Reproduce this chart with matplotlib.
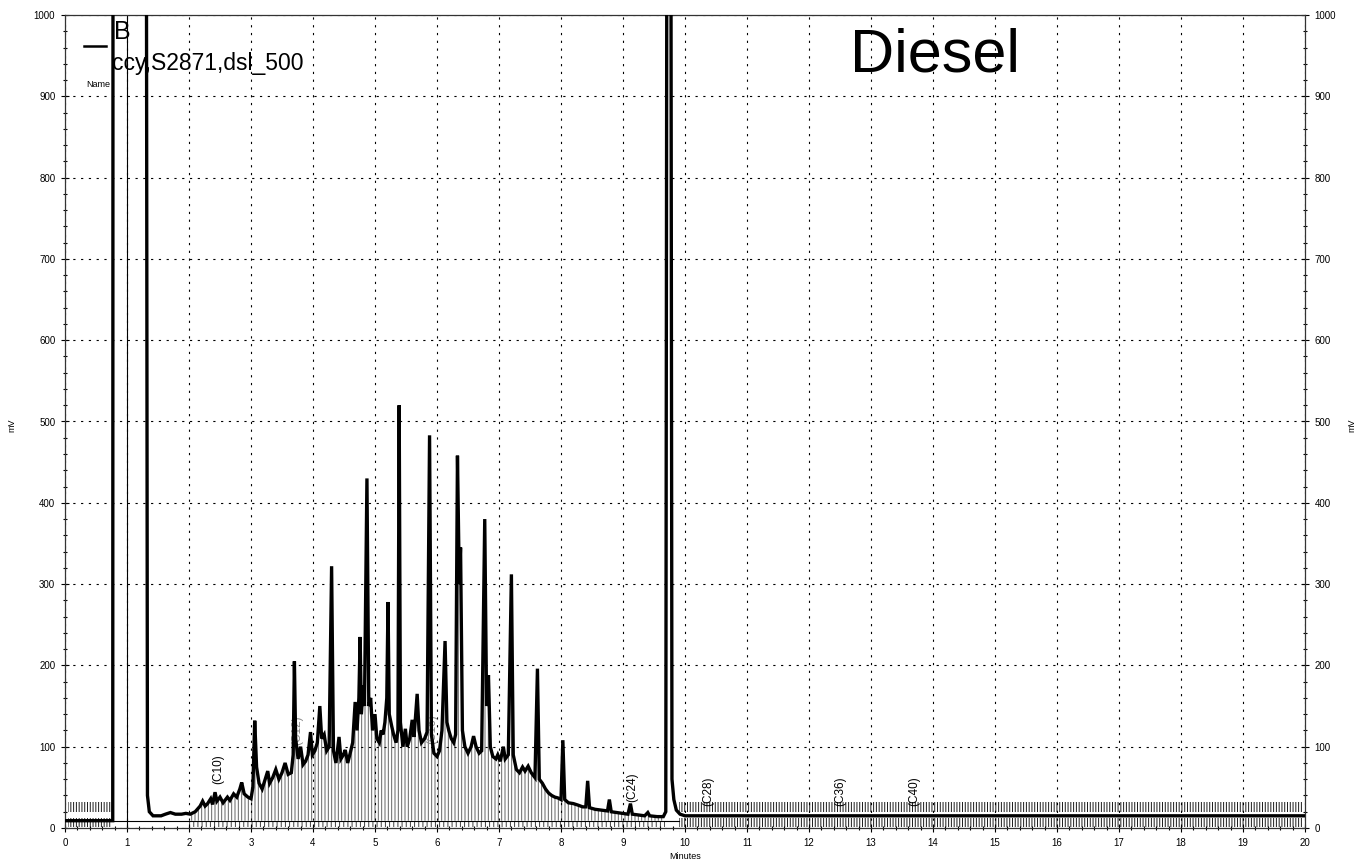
import numpy as np
import matplotlib.pyplot as plt
from matplotlib.lines import Line2D
from matplotlib.ticker import MultipleLocator

plt.rcParams['font.family'] = ['Liberation Sans', 'DejaVu Sans']
plt.rcParams['hatch.linewidth'] = 0.7

# chromatogram trace (minutes, mV); off-scale peaks set above 1000
trace_t = [0.0, 0.77, 0.775, 1.31, 1.33, 1.36, 1.42, 1.55, 1.62, 1.70, 1.78, 1.88, 1.95, 2.02,
           2.10, 2.18, 2.22, 2.26, 2.30, 2.35, 2.38, 2.42, 2.45, 2.50, 2.55, 2.62, 2.66, 2.72,
           2.77, 2.82, 2.85, 2.89, 2.95, 3.00, 3.03, 3.06, 3.09, 3.13, 3.18, 3.23, 3.27, 3.30,
           3.35, 3.40, 3.45, 3.50, 3.55, 3.60, 3.65, 3.68, 3.70, 3.72, 3.76, 3.80, 3.84, 3.88,
           3.92, 3.96, 3.99, 4.03, 4.07, 4.11, 4.14, 4.18, 4.22, 4.26, 4.30, 4.33, 4.37, 4.42,
           4.45, 4.49, 4.52, 4.56, 4.60, 4.64, 4.68, 4.71, 4.74, 4.76, 4.78, 4.81, 4.83, 4.87,
           4.90, 4.93, 4.96, 5.00, 5.03, 5.07, 5.10, 5.13, 5.16, 5.19, 5.21, 5.23, 5.27, 5.30,
           5.34, 5.37, 5.39, 5.41, 5.45, 5.49, 5.52, 5.56, 5.60, 5.63, 5.68, 5.71, 5.75, 5.80,
           5.84, 5.88, 5.91, 5.95, 6.00, 6.04, 6.08, 6.13, 6.16, 6.19, 6.23, 6.27, 6.30, 6.33,
           6.36, 6.38, 6.41, 6.45, 6.50, 6.55, 6.59, 6.63, 6.68, 6.72, 6.77, 6.80, 6.83, 6.86,
           6.90, 6.95, 6.98, 7.02, 7.07, 7.10, 7.15, 7.20, 7.23, 7.28, 7.33, 7.38, 7.42, 7.47,
           7.52, 7.58, 7.62, 7.65, 7.70, 7.75, 7.80, 7.85, 7.90, 7.95, 8.00, 8.03, 8.06, 8.12,
           8.20, 8.28, 8.35, 8.40, 8.43, 8.46, 8.55, 8.65, 8.75, 8.78, 8.81, 8.90, 9.00, 9.08,
           9.12, 9.15, 9.25, 9.35, 9.40, 9.43, 9.55, 9.65, 9.69, 9.71, 9.77, 9.79, 9.82, 9.86,
           9.92, 10.0, 20.0]
trace_mv = [9, 9, 1300, 1300, 40, 20, 15, 15, 17, 19, 17, 17, 18, 17,
            20, 27, 33, 27, 30, 36, 29, 44, 33, 38, 31, 38, 34, 42,
            38, 48, 56, 42, 38, 36, 50, 132, 75, 55, 48, 60, 70, 55,
            62, 72, 60, 68, 80, 66, 68, 90, 205, 110, 85, 100, 78, 82,
            90, 118, 90, 95, 105, 150, 110, 115, 95, 100, 322, 95, 80, 112,
            85, 90, 96, 80, 92, 105, 155, 120, 160, 235, 140, 175, 150, 430,
            150, 160, 120, 140, 110, 105, 120, 115, 130, 160, 278, 140, 125, 115,
            105, 120, 520, 130, 100, 122, 100, 110, 133, 112, 165, 120, 105, 110,
            118, 483, 115, 92, 88, 95, 120, 230, 130, 120, 110, 105, 115, 458,
            300, 345, 120, 100, 92, 100, 113, 100, 92, 95, 380, 150, 188, 100,
            88, 85, 90, 82, 100, 85, 90, 312, 90, 72, 68, 75, 70, 76,
            68, 62, 196, 60, 55, 48, 43, 40, 38, 37, 35, 108, 35, 31,
            30, 28, 26, 26, 58, 25, 23, 22, 21, 35, 20, 19, 18, 17,
            30, 17, 16, 15, 19, 15, 14, 14, 20, 1300, 1300, 60, 35, 22,
            17, 15, 15]

# integration marks (hatched) regions, minutes
fill_start, fill_end = 2.0, 9.68
mark_spans = [(0.05, 0.76), (9.9, 19.95)]
mark_rows = [(1, 12), (20, 32)]
baseline_mv = 9
baseline_end = 9.9
event_t = 1.0

peak_labels = ['(C10)', '(C12)', '(C16)', '(C24)', '(C28)', '(C36)', '(C40)']
peak_label_t = [2.47, 3.74, 5.93, 9.15, 10.37, 12.5, 13.7]
peak_label_mv = [72, 120, 122, 50, 45, 45, 45]
peak_label_color = ['k', '0.55', '0.55', 'k', 'k', 'k', 'k']

W, H = 1361, 863
fig = plt.figure(figsize=(W / 100, H / 100), dpi=100)
ax = fig.add_axes([65 / W, 1 - 828 / H, 1240 / W, 813 / H])

t = np.array(trace_t)
mv = np.array(trace_mv)

ax.fill_between(t, baseline_mv, mv, where=(t >= fill_start) & (t <= fill_end),
                facecolor='none', edgecolor='0.4', linewidth=0, hatch='|||||', zorder=1)
for x0, x1 in mark_spans:
    for y0, y1 in mark_rows:
        ax.fill_between([x0, x1], y0, y1, facecolor='none', edgecolor='0.1',
                        linewidth=0, hatch='||||||', zorder=1)
ax.fill_between([fill_start, fill_end], mark_rows[0][0], baseline_mv, facecolor='none',
                edgecolor='0.25', linewidth=0, hatch='||||', zorder=1)

ax.plot([0, baseline_end], [baseline_mv, baseline_mv], color='k', lw=0.8, zorder=2)
ax.axvline(event_t, color='k', lw=0.8, zorder=2)

for lab, lt, lm, lc in zip(peak_labels, peak_label_t, peak_label_mv, peak_label_color):
    ax.text(lt, lm, lab, rotation=90, ha='center', va='center', fontsize=8.5,
            color=lc, zorder=2)

ax.plot(t, mv, color='k', lw=2.4, solid_joinstyle='miter', zorder=3)

ax.set_xlim(0, 20)
ax.set_ylim(0, 1000)
ax.xaxis.set_major_locator(MultipleLocator(1))
ax.xaxis.set_minor_locator(MultipleLocator(0.2))
ax.yaxis.set_major_locator(MultipleLocator(100))
ax.yaxis.set_minor_locator(MultipleLocator(20))
ax.grid(which='major', color='k', linestyle=(0, (2, 5)), linewidth=0.8)
ax.tick_params(which='both', direction='inout', labelsize=7, right=True, labelright=True,
               width=0.8)
ax.tick_params(which='major', length=6, pad=4)
ax.tick_params(which='minor', length=3)
for s in ax.spines.values():
    s.set_linewidth(0.9)
    s.set_color('0.2')

ax.set_xlabel('Minutes', fontsize=6.5, labelpad=3)
fig.text(12 / W, 1 - 425 / H, 'mV', rotation=90, fontsize=6.5, ha='center', va='center')
fig.text(1352 / W, 1 - 425 / H, 'mV', rotation=90, fontsize=6.5, ha='center', va='center')

# legend block top-left
fig.add_artist(Line2D([84 / W, 106 / W], [1 - 46 / H, 1 - 46 / H], color='k', lw=1.8))
fig.text(114 / W, 1 - 20 / H, 'B', fontsize=18, va='top', ha='left')
fig.text(112 / W, 1 - 70 / H, 'ccy,S2871,dsl_500', fontsize=16.5, va='baseline', ha='left')
fig.text(86 / W, 1 - 87 / H, 'Name', fontsize=6.5, va='baseline', ha='left')

fig.text(850 / W, 1 - 72 / H, 'Diesel', fontsize=44, va='baseline', ha='left',
         fontweight='light')

fig.savefig('out.png', dpi=100)
